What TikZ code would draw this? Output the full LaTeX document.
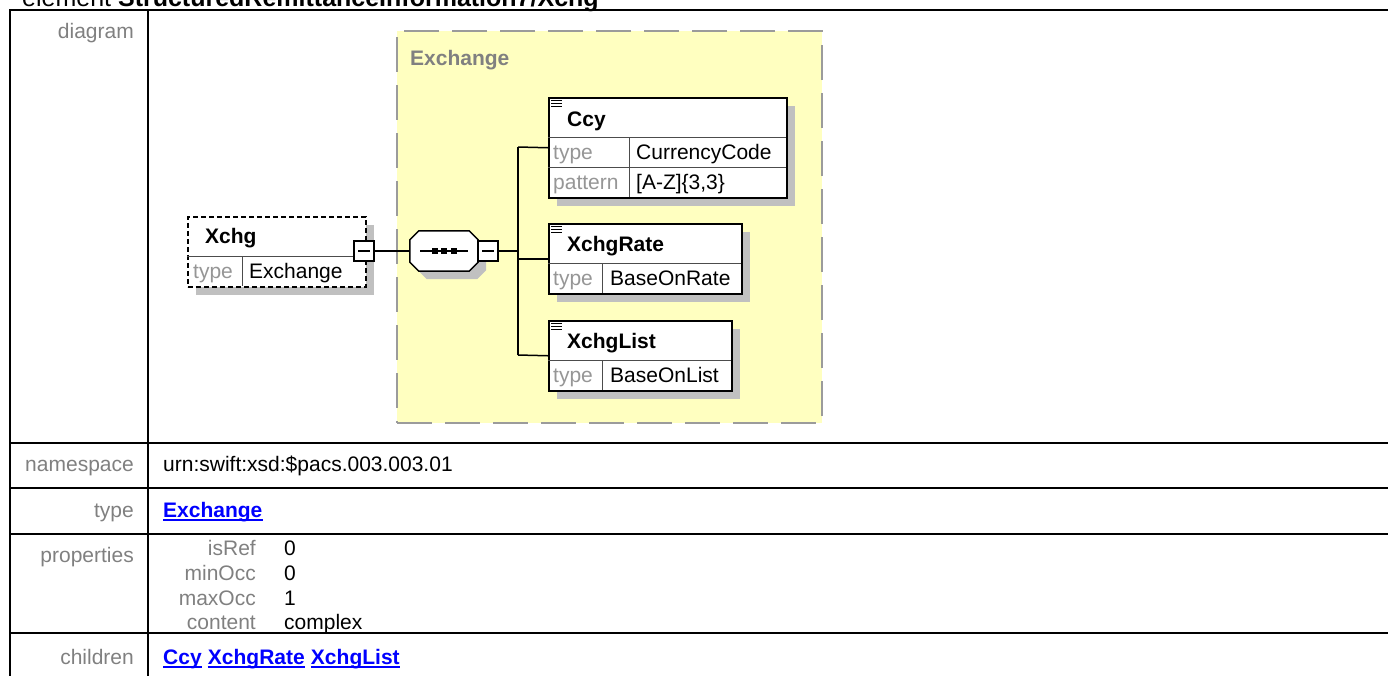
\documentclass[tikz,border=0pt]{standalone}
\usepackage{fontspec}
\setmainfont{Liberation Sans}
\usetikzlibrary{shadows}
\definecolor{lblgray}{RGB}{128,128,128}
\definecolor{typegray}{RGB}{150,150,150}
\definecolor{shadowgray}{RGB}{192,192,192}
\definecolor{cmplxyellow}{RGB}{255,255,192}
\definecolor{dashgray}{RGB}{155,155,155}
\definecolor{linkblue}{RGB}{0,0,255}
\begin{document}
\begin{tikzpicture}[x=1pt,y=-1pt]

\tikzset{boxshadow/.style={drop shadow={shadow xshift=8pt,shadow yshift=-8pt,fill=shadowgray,opacity=1}},}
\tikzset{elembox/.style={rectangle,draw=black,line width=1.5pt,fill=white,inner sep=0pt,anchor=north west,boxshadow},}
\tikzset{optbox/.style={elembox,dash pattern=on 5pt off 3pt},}
\tikzset{minusbox/.style={rectangle,draw=black,line width=1.5pt,fill=white,minimum size=20pt,inner sep=0pt,path picture={\draw[line width=1.5pt] ([xshift=-6pt]path picture bounding box.center) -- ([xshift=6pt]path picture bounding box.center);}},}
\tikzset{seqspot/.style={rectangle,minimum width=68pt,minimum height=40pt,inner sep=0pt},}
\tikzset{seqline/.style={draw=black,line width=1.5pt,fill=white,boxshadow},}
\tikzset{cmplxbox/.style={rectangle,draw=dashgray,fill=cmplxyellow,line width=2pt,dash pattern=on 35pt off 13pt,inner sep=0pt,anchor=north west},}
\tikzset{txt/.style={inner sep=0pt,anchor=base west,font=\fontsize{21}{25}\selectfont},}
\tikzset{ename/.style={txt,font=\fontsize{21}{25}\selectfont\bfseries},}
\tikzset{tlbl/.style={txt,text=typegray},}
\tikzset{tval/.style={txt},}
\tikzset{rowlbl/.style={txt,anchor=base east,text=lblgray},}
\tikzset{rowval/.style={txt},}
\tikzset{rowlink/.style={ename,text=linkblue},}
\tikzset{rowsep/.style={line width=1pt,black!70},}
\tikzset{tableline/.style={line width=2pt,black},}
\tikzset{conn/.style={line width=1.5pt,black},}

\useasboundingbox (0,0) rectangle (1388,675);

%TITLE
\draw (22,6) node[txt,font=\fontsize{25}{30}\selectfont] (title) {element \textbf{StructuredRemittanceInformation7/Xchg}};

%TABLE
\draw[tableline] (10,700) -- (10,10) -- (1400,10);
\draw[tableline] (148,10) -- (148,700);
\foreach \y in {443,488,534,633}
  \draw[tableline] (10,\y) -- (1400,\y);

\draw (134,38) node[rowlbl] (ldiagram) {diagram};
\draw (134,471) node[rowlbl] (lns) {namespace};
\draw (134,517) node[rowlbl] (ltype) {type};
\draw (134,562) node[rowlbl] (lprops) {properties};
\draw (134,664) node[rowlbl] (lchild) {children};

\draw (163,471) node[rowval] (vns) {urn:swift:xsd:\$pacs.003.003.01};
\draw (163,517) node[rowlink] (vtype) {Exchange};
\foreach \k/\v/\y in {isRef/0/555,minOcc/0/580,maxOcc/1/605,content/complex/629} {
  \draw (256,\y) node[rowlbl] (p\k) {\k};
  \draw (284,\y) node[rowval] (v\k) {\v};
}
\draw (163,664) node[rowlink] (cccy) {Ccy};
\node[rowlink] (crate) at ([xshift=5.8pt]cccy.base east) {XchgRate};
\node[rowlink] (clist) at ([xshift=5.8pt]crate.base east) {XchgList};
\foreach \n in {vtype,cccy,crate,clist}
  \draw[linkblue,line width=1.5pt] ([yshift=-3pt]\n.base west) -- ([yshift=-3pt]\n.base east);

%EXCHANGE
\draw (396,30) node[cmplxbox,minimum width=425pt,minimum height=392pt] (cmplx) {};
\draw (410,65) node[ename,text=lblgray] (lcmplx) {Exchange};

%XCHG
\draw (187,216) node[optbox,minimum width=178pt,minimum height=70pt] (xchg) {};
\draw[rowsep] (187,256) -- (365,256);
\draw[rowsep] (242,256) -- (242,286);
\draw (205,243) node[ename] (nxchg) {Xchg};
\draw (193,278) node[tlbl] (txchg) {type};
\draw (249,278) node[tval] (vxchg) {Exchange};
\draw (364,251) node[minusbox] (mxchg) {};

%SEQUENCE
\node[seqspot] (seq) at (444,251) {};
\path[seqline] ([xshift=9pt]seq.north west) -- ([xshift=-9pt]seq.north east)
  -- ([yshift=-9pt]seq.north east) -- ([yshift=9pt]seq.south east)
  -- ([xshift=-9pt]seq.south east) -- ([xshift=9pt]seq.south west)
  -- ([yshift=9pt]seq.south west) -- ([yshift=-9pt]seq.north west) -- cycle;
\draw[conn] ([xshift=-24pt]seq.center) -- ([xshift=24pt]seq.center);
\foreach \dx in {-9.5,0,9.5}
  \fill ([xshift=\dx pt]seq.center) +(-3,-3) rectangle +(3,3);
\draw (488,251) node[minusbox] (mseq) {};

%CHILDREN
\draw (548,97) node[elembox,minimum width=238pt,minimum height=100pt] (ccy) {};
\draw[rowsep] (548,137) -- (786,137);
\draw[rowsep] (548,167) -- (786,167);
\draw[rowsep] (629,137) -- (629,197);
\draw (567,126) node[ename] (nccy) {Ccy};
\draw (553,159) node[tlbl] (tccy) {type};
\draw (636,159) node[tval] (vccy) {CurrencyCode};
\draw (553,189) node[tlbl] (pccy) {pattern};
\draw (636,189) node[tval] (rccy) {[A-Z]\{3,3\}};

\draw (548,223) node[elembox,minimum width=193pt,minimum height=70pt] (rate) {};
\draw[rowsep] (548,263) -- (741,263);
\draw[rowsep] (602,263) -- (602,293);
\draw (567,251) node[ename] (nrate) {XchgRate};
\draw (553,285) node[tlbl] (trate) {type};
\draw (610,285) node[tval] (vrate) {BaseOnRate};

\draw (548,320) node[elembox,minimum width=183pt,minimum height=70pt] (list) {};
\draw[rowsep] (548,360) -- (731,360);
\draw[rowsep] (602,360) -- (602,390);
\draw (567,348) node[ename] (nlist) {XchgList};
\draw (553,382) node[tlbl] (tlist) {type};
\draw (610,382) node[tval] (vlist) {BaseOnList};

\foreach \b in {ccy,rate,list}
  \foreach \dy in {3,6,9}
    \draw[line width=1pt] ([shift={(3,\dy)}]\b.north west) -- ++(11,0);

%CONNECTORS
\coordinate (bustop) at (518,147);
\coordinate (busbot) at (518,355);
\draw[conn] (mxchg.east) -- (seq.west);
\draw[conn] (mseq.east) -- (mseq.east -| bustop);
\draw[conn] (bustop) -- (busbot);
\draw[conn] (bustop) -- (ccy.west);
\draw[conn] (rate.west -| bustop) -- (rate.west);
\draw[conn] (busbot) -- (list.west);

\end{tikzpicture}
\end{document}
